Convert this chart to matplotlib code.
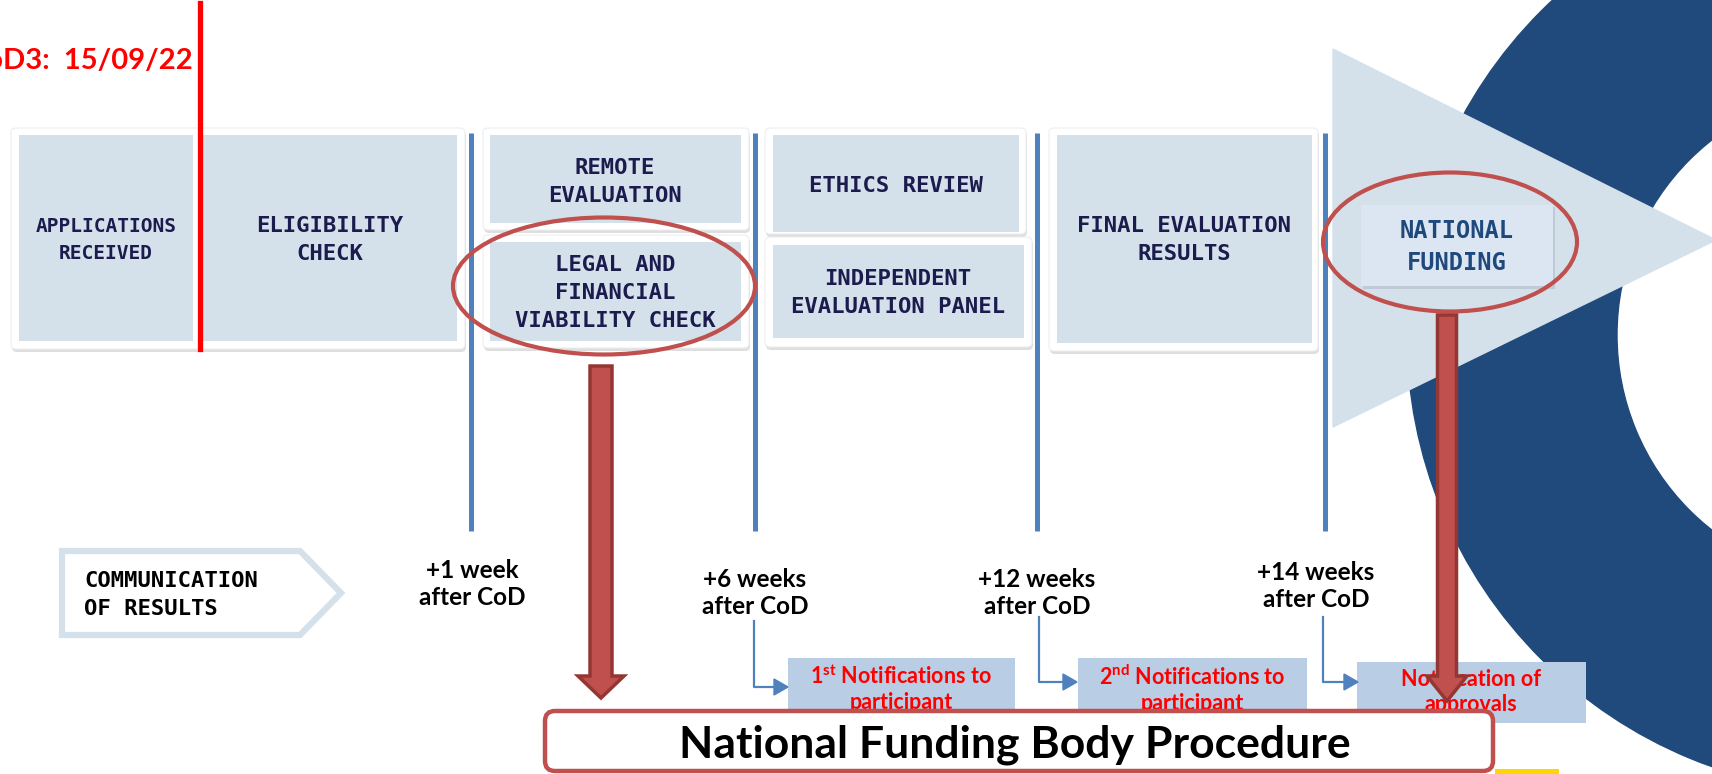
import matplotlib
matplotlib.use("Agg")
import matplotlib.pyplot as plt
import matplotlib.patches as mpatches

plt.rcParams['mathtext.fontset'] = 'custom'
plt.rcParams['mathtext.bf'] = 'Lato:bold'
plt.rcParams['mathtext.rm'] = 'Lato:bold'

# ---- content ----
cod_label = "CoD3:  15/09/22"
stage_labels = ["APPLICATIONS\nRECEIVED", "ELIGIBILITY\nCHECK", "REMOTE\nEVALUATION",
                "LEGAL AND\nFINANCIAL\nVIABILITY CHECK", "ETHICS REVIEW",
                "INDEPENDENT\nEVALUATION PANEL", "FINAL EVALUATION\nRESULTS"]
final_stage = "NATIONAL\nFUNDING"
comm_label = "COMMUNICATION\nOF RESULTS"
week_labels = ["+1 week\nafter CoD", "+6 weeks\nafter CoD", "+12 weeks\nafter CoD", "+14 weeks\nafter CoD"]
notif_labels = ["1$^{\\mathbf{st}}$ Notifications to\nparticipant",
                "2$^{\\mathbf{nd}}$ Notifications to\nparticipant",
                "Notification of\napprovals"]
title = "National Funding Body Procedure"

# ---- layout (pixel coords, y down) ----
# white cards: x0, y0, x1, y1
cards = [(11, 128, 465, 349), (483, 128, 749, 230), (483, 235, 749, 348),
         (765, 128, 1026, 234), (765, 237, 1032, 347), (1049, 128, 1318, 351)]
# inner boxes for each stage label
inner = [(19, 135, 193, 341), (203, 135, 457, 341), (490, 135, 741, 223),
         (490, 242, 741, 341), (773, 135, 1019, 232), (773, 245, 1024, 338),
         (1057, 135, 1312, 343)]
label_pos = [(106, 240), (330, 240), (615, 182), (615, 293), (896, 186), (898, 293), (1184, 240)]
label_size = [14, 16, 16, 16, 16, 16, 16]
sep_x = [471, 755, 1037, 1325]
week_pos = [(472, 584), (755, 593), (1037, 593), (1316, 586)]
elbows = [(754, 621, 687, 788), (1039, 617, 682, 1077), (1323, 617, 682, 1358)]
notif_box = [(788, 658, 1015, 722), (1078, 658, 1307, 722), (1357, 662, 1586, 723)]
notif_pos = [(901, 689), (1192, 689), (1471, 692)]

navy = '#1c1b4d'
pale = '#d4e1eb'
lineblue = '#4f81bd'
red_dark = '#c0504d'

fig = plt.figure(figsize=(17.12, 7.74), dpi=100)
ax = fig.add_axes([0, 0, 1, 1])
ax.set_xlim(0, 1712)
ax.set_ylim(774, 0)
ax.axis('off')

# background ring and triangle
ax.add_patch(mpatches.Wedge((1865, 335), 458, 0, 360, width=210, color='#20497c', zorder=1))
ax.add_patch(mpatches.Polygon([(1333, 49), (1333, 427), (1716, 240)], closed=True,
                              color=pale, zorder=2))

# cards with shadow
for x0, y0, x1, y1 in cards:
    ax.add_patch(mpatches.FancyBboxPatch((x0 + 1, y0 + 3), x1 - x0, y1 - y0,
                                         boxstyle="round,pad=0,rounding_size=5",
                                         fc='#c8c8c8', ec='none', alpha=0.6, zorder=3))
    ax.add_patch(mpatches.FancyBboxPatch((x0, y0), x1 - x0, y1 - y0,
                                         boxstyle="round,pad=0,rounding_size=5",
                                         fc='white', ec='#eeeeee', lw=0.8, zorder=4))
for (x0, y0, x1, y1), lab, (tx, ty), fs in zip(inner, stage_labels, label_pos, label_size):
    ax.add_patch(mpatches.Rectangle((x0, y0), x1 - x0, y1 - y0, fc=pale, ec='none', zorder=5))
    ax.text(tx, ty, lab, ha='center', va='center', fontsize=fs, color=navy,
            family='DejaVu Sans Mono', weight='bold', linespacing=1.5, zorder=6)

# national funding box
ax.add_patch(mpatches.Rectangle((1363, 207), 192, 82, fc='#aab4c0', ec='none', alpha=0.5, zorder=5))
ax.add_patch(mpatches.Rectangle((1361, 205), 192, 81, fc='#dce6f2', ec='none', zorder=6))
ax.text(1457, 247, final_stage, ha='center', va='center', fontsize=17, color='#1f497d',
        family='DejaVu Sans Mono', weight='bold', linespacing=1.45, zorder=7)

# red CoD line and label
ax.plot([200, 200], [3, 349], color='#ff0000', lw=3.8, zorder=8)
ax.text(193, 61, cod_label, ha='right', va='center', fontsize=21, color='#ff0000',
        family='Lato', weight='bold', zorder=8)

# stage separators
for x in sep_x:
    ax.plot([x, x], [133, 531], color=lineblue, lw=3.6, solid_capstyle='butt', zorder=7)

# highlight ellipses
ax.add_patch(mpatches.Ellipse((604, 286), 302, 137, fill=False, ec=red_dark, lw=3, zorder=9))
ax.add_patch(mpatches.Ellipse((1450, 242), 254, 139, fill=False, ec=red_dark, lw=3, zorder=9))

# communication of results tag
ax.add_patch(mpatches.Polygon([(62, 551), (300, 551), (341, 593), (300, 635), (62, 635)],
                              closed=True, fill=False, ec=pale, lw=4.5, joinstyle='miter', zorder=5))
ax.text(84, 595, comm_label, ha='left', va='center', fontsize=16, color='black',
        family='DejaVu Sans Mono', weight='bold', linespacing=1.55, zorder=6)

# week labels
for (tx, ty), lab in zip(week_pos, week_labels):
    ax.text(tx, ty, lab, ha='center', va='center', fontsize=17.5, color='black',
            family='Lato', weight='bold', linespacing=1.2, zorder=6)

# notification boxes
for (x0, y0, x1, y1), lab, (tx, ty) in zip(notif_box, notif_labels, notif_pos):
    ax.add_patch(mpatches.Rectangle((x0, y0), x1 - x0, y1 - y0, fc='#b9cde5', ec='none', zorder=6))
    ax.text(tx, ty, lab, ha='center', va='center', fontsize=15.5, color='#ff0000',
            family='Lato', weight='bold', linespacing=1.25, zorder=7)

# elbow connectors
for x, y0, y1, x1 in elbows:
    ax.plot([x, x, x1 - 12], [y0, y1, y1], color=lineblue, lw=1.6, zorder=7)
    ax.add_patch(mpatches.Polygon([(x1 - 14, y1 - 8), (x1, y1), (x1 - 14, y1 + 8)],
                                  closed=True, color=lineblue, zorder=7))

# big red arrows
ax.add_patch(mpatches.FancyArrow(601, 366, 0, 332, width=22, head_width=46, head_length=22,
                                 length_includes_head=True, fc=red_dark, ec='#943634', lw=2.5, zorder=10))
ax.add_patch(mpatches.FancyArrow(1447, 315, 0, 386, width=19, head_width=40, head_length=25,
                                 length_includes_head=True, fc=red_dark, ec='#943634', lw=2.5, zorder=12))

# bottom procedure box
ax.add_patch(mpatches.FancyBboxPatch((545, 711), 948, 60, boxstyle="round,pad=0,rounding_size=10",
                                     fc='white', ec=red_dark, lw=3.2, zorder=11))
ax.text(1015, 745, title, ha='center', va='center', fontsize=32, color='black',
        family='Lato', weight='bold', zorder=12)
ax.add_patch(mpatches.Rectangle((1495, 769), 64, 6, fc='#ffd600', ec='none', zorder=11))

fig.savefig('out.png', dpi=100)
